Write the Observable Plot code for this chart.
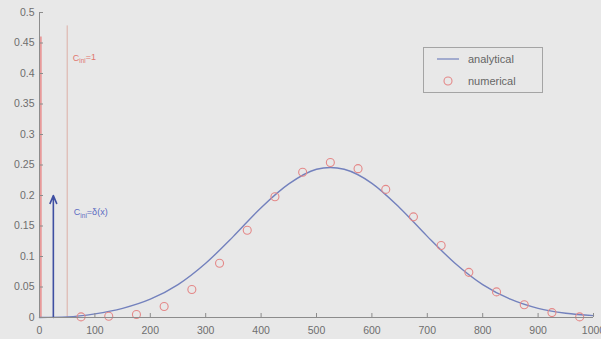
<!DOCTYPE html>
<html><head><meta charset="utf-8">
<script src="https://cdn.jsdelivr.net/npm/d3@7"></script>
<script src="https://cdn.jsdelivr.net/npm/@observablehq/plot@0.6"></script>
<style>
body{margin:0;background:#e8e8e8;font-family:"Liberation Sans",Arial,sans-serif;}
#wrap{position:relative;width:601px;height:339px;overflow:hidden;}
#legend{position:absolute;left:423px;top:47px;width:120px;height:46px;border:1px solid #a4a4a4;box-sizing:border-box;font-size:11px;color:#666;}
#legend .row{position:absolute;left:0;height:14px;line-height:14px;}
#legend .lab{position:absolute;left:44px;}
</style></head><body><div id="wrap"></div>
<script>
const xTicks = [0,100,200,300,400,500,600,700,800,900,1000];
const yTicks = [0,0.05,0.1,0.15,0.2,0.25,0.3,0.35,0.4,0.45,0.5];

// numerical solution (circles)
const numX = [75,125,175,225,275,325,375,425,475,525,575,625,675,725,775,825,875,925,975];
const numY = [0.001,0.002,0.005,0.018,0.046,0.089,0.143,0.198,0.238,0.254,0.244,0.210,0.165,0.118,0.074,0.042,0.021,0.008,0.001];

// analytical solution (line)
const anaX = [0,50,100,150,200,250,300,350,400,450,500,525,550,600,650,700,750,800,850,900,950,1000];
const anaY = [0,0.001,0.006,0.015,0.030,0.054,0.089,0.133,0.180,0.219,0.243,0.246,0.243,0.220,0.180,0.133,0.089,0.054,0.030,0.015,0.007,0.003];

// initial conditions
const pulseEdges = [0, 50];      // C_ini = 1 pulse edges
const pulseTops = [0.46, 0.478];
const deltaX = 25, deltaH = 0.2; // C_ini = delta(x)
const labels = [
  {x: 60, y: 0.426, sub: "ini", rest: "=1", color: "#e0766e", key: "LBL1"},
  {x: 62, y: 0.172, sub: "ini", rest: "=\u03b4(x)", color: "#5b6bc2", key: "LBL2"}
];

const num = numX.map((x,i)=>({x, y:numY[i]}));
const ana = anaX.map((x,i)=>({x, y:anaY[i]}));
const pulse = pulseEdges.map((x,i)=>({x, top:pulseTops[i]}));

const tickLenY = 0.5*4/305, tickLenX = 1000*4/555;
const axisGray = "#8c8c8c";

const chart = Plot.plot({
  width: 601, height: 339,
  marginLeft: 39, marginRight: 8, marginTop: 12, marginBottom: 22,
  style: {background: "transparent", fontFamily: "'Liberation Sans', Arial, sans-serif", fontSize: "10.5px", color: "#6e6e6e", overflow: "visible"},
  x: {domain: [0, 1000]},
  y: {domain: [0, 0.5]},
  marks: [
    Plot.ruleX([pulse[0]], {x: "x", y1: 0, y2: "top", stroke: "#e89a9a", strokeWidth: 2.5, dx: 1}),
    Plot.ruleX([pulse[1]], {x: "x", y1: 0, y2: "top", stroke: "#dcaea6", strokeWidth: 1}),
    Plot.line(ana, {x: "x", y: "y", stroke: "#7381bd", strokeWidth: 1.4, curve: "monotone-x"}),
    Plot.dot(num, {x: "x", y: "y", r: 4, stroke: "#e48888", strokeWidth: 1.1}),
    Plot.arrow([{x: deltaX, h: deltaH}], {x1: "x", x2: "x", y1: 0, y2: "h", stroke: "#3f4fa2", strokeWidth: 1.6, headLength: 8, headAngle: 45}),
    Plot.ruleY([0], {stroke: axisGray}),
    Plot.ruleX([0], {stroke: axisGray}),
    Plot.ruleX(xTicks, {x: d => d, y1: 0, y2: tickLenY, stroke: axisGray}),
    Plot.ruleY(yTicks, {y: d => d, x1: 0, x2: tickLenX, stroke: axisGray}),
    Plot.axisX({ticks: xTicks, tickSize: 0, tickPadding: 9, tickFormat: d => String(d), label: null}),
    Plot.axisY({ticks: yTicks, tickSize: 0, tickPadding: 5, tickFormat: d => String(+d.toFixed(2)), label: null}),
    Plot.text(labels, {x: "x", y: "y", text: "key", fill: "color", textAnchor: "start", fontSize: 9})
  ]
});
document.getElementById("wrap").appendChild(chart);

// subscript styling of the labels
d3.select(chart).selectAll("text").each(function(){
  const l = labels.find(l => l.key === this.textContent);
  if (!l) return;
  const t = d3.select(this);
  t.text("C");
  t.append("tspan").attr("dy", "0.35em").attr("font-size", 6.5).text(l.sub);
  t.append("tspan").attr("dy", "-0.35em").text(l.rest);
});

// legend
const lg = document.createElement("div");
lg.id = "legend";
lg.innerHTML = `
<div class="row" style="top:4px;width:100%"><svg width="40" height="14" style="position:absolute;left:0;top:0"><line x1="13" x2="35" y1="7" y2="7" stroke="#7381bd" stroke-width="1.2"/></svg><span class="lab">analytical</span></div>
<div class="row" style="top:26px;width:100%"><svg width="40" height="14" style="position:absolute;left:0;top:0"><circle cx="24" cy="7" r="4" fill="none" stroke="#e48888" stroke-width="1.1"/></svg><span class="lab">numerical</span></div>`;
document.getElementById("wrap").appendChild(lg);
</script></body></html>
